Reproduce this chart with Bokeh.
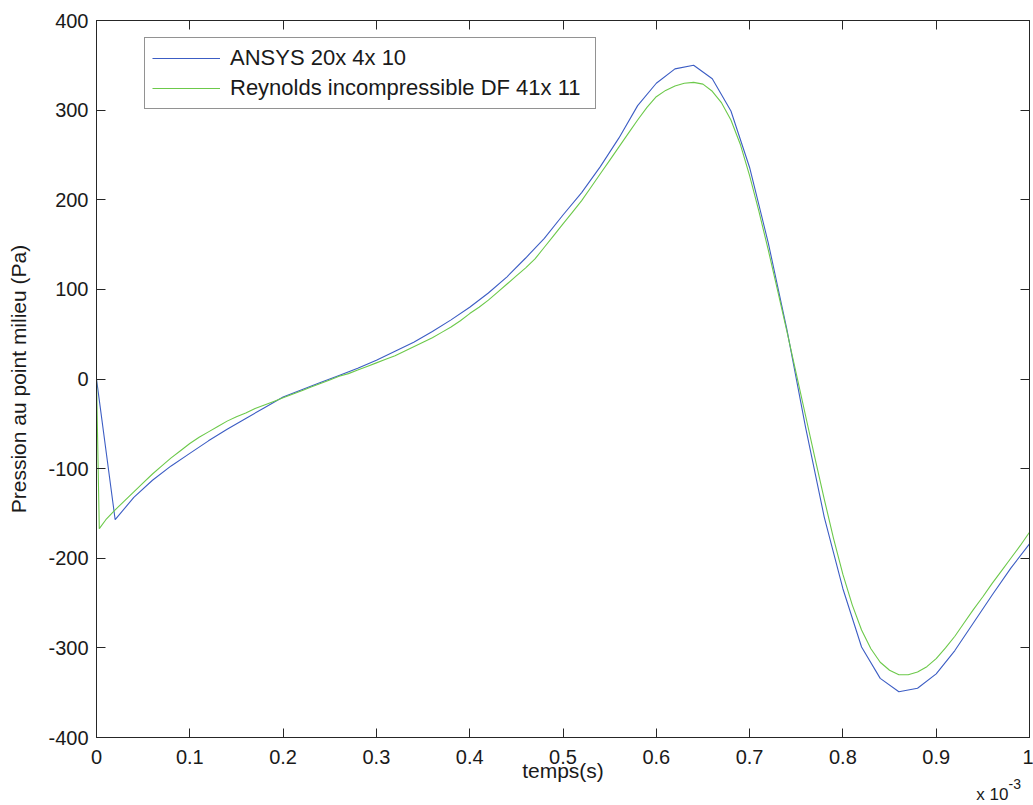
from bokeh.plotting import figure
from bokeh.models import (LinearAxis, FixedTicker, CustomJSTickFormatter, Range1d,
                          Label)
from bokeh.embed import file_html
from bokeh.resources import INLINE

# ---------------- data (time in units of 1e-3 s, pressure in Pa) ----------------
t_ansys = [0.00, 0.02, 0.04, 0.06, 0.08, 0.10, 0.12, 0.14, 0.16, 0.18,
           0.20, 0.22, 0.24, 0.26, 0.28, 0.30, 0.32, 0.34, 0.36, 0.38,
           0.40, 0.42, 0.44, 0.46, 0.48, 0.50, 0.52, 0.54, 0.56, 0.58,
           0.60, 0.62, 0.64, 0.66, 0.68, 0.70, 0.72, 0.74, 0.76, 0.78,
           0.80, 0.82, 0.84, 0.86, 0.88, 0.90, 0.92, 0.94, 0.96, 0.98, 1.00]
p_ansys = [0, -157, -132, -113, -97, -83, -69, -56, -44, -32,
           -20, -12, -4, 4, 12, 21, 31, 41, 53, 66,
           80, 96, 114, 135, 157, 183, 208, 237, 269, 305,
           330, 346, 350, 335, 299, 236, 152, 55, -54, -154,
           -234, -299, -334, -349, -345, -329, -303, -272, -241, -211, -184]

t_reyn = [0.000, 0.003, 0.01, 0.02, 0.03, 0.04, 0.05, 0.06, 0.07, 0.08, 0.09,
          0.10, 0.11, 0.12, 0.13, 0.14, 0.15, 0.16, 0.17, 0.18, 0.19,
          0.20, 0.21, 0.22, 0.23, 0.24, 0.25, 0.26, 0.27, 0.28, 0.29,
          0.30, 0.31, 0.32, 0.33, 0.34, 0.35, 0.36, 0.37, 0.38, 0.39,
          0.40, 0.41, 0.42, 0.43, 0.44, 0.45, 0.46, 0.47, 0.48, 0.49,
          0.50, 0.51, 0.52, 0.53, 0.54, 0.55, 0.56, 0.57, 0.58, 0.59,
          0.60, 0.61, 0.62, 0.63, 0.64, 0.65, 0.66, 0.67, 0.68, 0.69,
          0.70, 0.71, 0.72, 0.73, 0.74, 0.75, 0.76, 0.77, 0.78, 0.79,
          0.80, 0.81, 0.82, 0.83, 0.84, 0.85, 0.86, 0.87, 0.88, 0.89,
          0.90, 0.91, 0.92, 0.93, 0.94, 0.95, 0.96, 0.97, 0.98, 0.99, 1.00]
p_reyn = [0, -167, -157, -146, -136, -126, -116, -106, -97, -88, -80,
          -72, -65, -59, -53, -47, -42, -38, -33, -29, -25,
          -21, -17, -13, -9, -5, -1, 3, 6, 10, 14,
          18, 22, 26, 31, 36, 41, 46, 52, 58, 65,
          73, 80, 88, 97, 106, 115, 124, 134, 147, 160,
          173, 186, 199, 214, 229, 244, 259, 274, 289, 303,
          315, 322, 327, 330, 331, 329, 321, 308, 289, 262,
          227, 187, 144, 99, 53, 6, -41, -88, -134, -178,
          -218, -252, -280, -301, -316, -325, -330, -330, -327, -321,
          -312, -300, -287, -272, -257, -243, -228, -214, -200, -186, -171]

x_ticks = [0, 0.1, 0.2, 0.3, 0.4, 0.5, 0.6, 0.7, 0.8, 0.9, 1.0]
y_ticks = [-400, -300, -200, -100, 0, 100, 200, 300, 400]
label_ansys = "ANSYS 20x 4x 10"
label_reyn = "Reynolds incompressible DF 41x 11"

# ---------------- styling ----------------
FONT = "Liberation Sans"
INK = "#262626"
BLUE = "#3c5dc4"
GREEN = "#6cc94a"

p = figure(width=1033, height=805, output_backend="svg", toolbar_location=None,
           x_range=Range1d(0, 1), y_range=Range1d(-400, 400),
           min_border_left=96, min_border_right=4, min_border_top=20,
           min_border_bottom=68,
           x_axis_label="temps(s)", y_axis_label="Pression au point milieu (Pa)")
p.grid.visible = False
p.outline_line_color = INK
p.outline_line_width = 1

xt = FixedTicker(ticks=x_ticks, minor_ticks=[])
yt = FixedTicker(ticks=y_ticks, minor_ticks=[])
xfmt = CustomJSTickFormatter(code="return tick.toFixed(1).replace(/\\.0$/, '');")
yfmt = CustomJSTickFormatter(code="return String(Math.round(tick));")
blank = CustomJSTickFormatter(code="return '';")

def style(ax):
    ax.axis_line_color = INK
    ax.major_tick_line_color = INK
    ax.major_tick_in = 9
    ax.major_tick_out = 0
    ax.minor_tick_line_color = None
    ax.major_label_text_font = FONT
    ax.major_label_text_font_size = "20px"
    ax.major_label_text_color = "#1a1a1a"
    ax.axis_label_text_font = FONT
    ax.axis_label_text_font_size = "21px"
    ax.axis_label_text_font_style = "normal"
    ax.axis_label_text_color = "#1a1a1a"

for ax in p.xaxis:
    ax.ticker = xt
    ax.formatter = xfmt
    ax.major_label_standoff = 12
    ax.axis_label_standoff = -8
    style(ax)
for ax in p.yaxis:
    ax.ticker = yt
    ax.formatter = yfmt
    ax.major_label_standoff = 8
    ax.axis_label_standoff = 15
    style(ax)

top = LinearAxis(ticker=xt, formatter=blank, major_label_standoff=0)
style(top)
top.major_label_text_font_size = "0px"
p.add_layout(top, "above")
right = LinearAxis(ticker=yt, formatter=blank, major_label_standoff=0)
style(right)
right.major_label_text_font_size = "0px"
p.add_layout(right, "right")

p.line(t_ansys, p_ansys, line_color=BLUE, line_width=1.1, legend_label=label_ansys)
p.line(t_reyn, p_reyn, line_color=GREEN, line_width=1.1, legend_label=label_reyn)

lg = p.legend[0]
lg.location = (48, 628)
lg.label_text_font = FONT
lg.label_text_font_size = "22px"
lg.label_text_color = "#1a1a1a"
lg.glyph_width = 68
lg.glyph_height = 24
lg.label_height = 24
lg.label_width = 358
lg.label_standoff = 10
lg.spacing = 4
lg.padding = 7
lg.margin = 0
lg.border_line_color = INK
lg.border_line_width = 1
lg.background_fill_alpha = 1

# "x 10^-3" multiplier: placed in side panels so the frame does not clip it,
# positioned in data units relative to the lower-right corner of the axes.
p.add_layout(Label(x=1.0, y=-400, x_offset=-21, y_offset=-57, text="x 10",
                   text_align="right", text_baseline="alphabetic",
                   text_font=FONT, text_font_size="17px", text_color="#1a1a1a"),
             "above")
p.add_layout(Label(x=1.0, y=-400, x_offset=-21, y_offset=-46, text="-3",
                   text_align="left", text_baseline="alphabetic",
                   text_font=FONT, text_font_size="14px", text_color="#1a1a1a"),
             "below")

open("out.html", "w").write(file_html(p, INLINE))
